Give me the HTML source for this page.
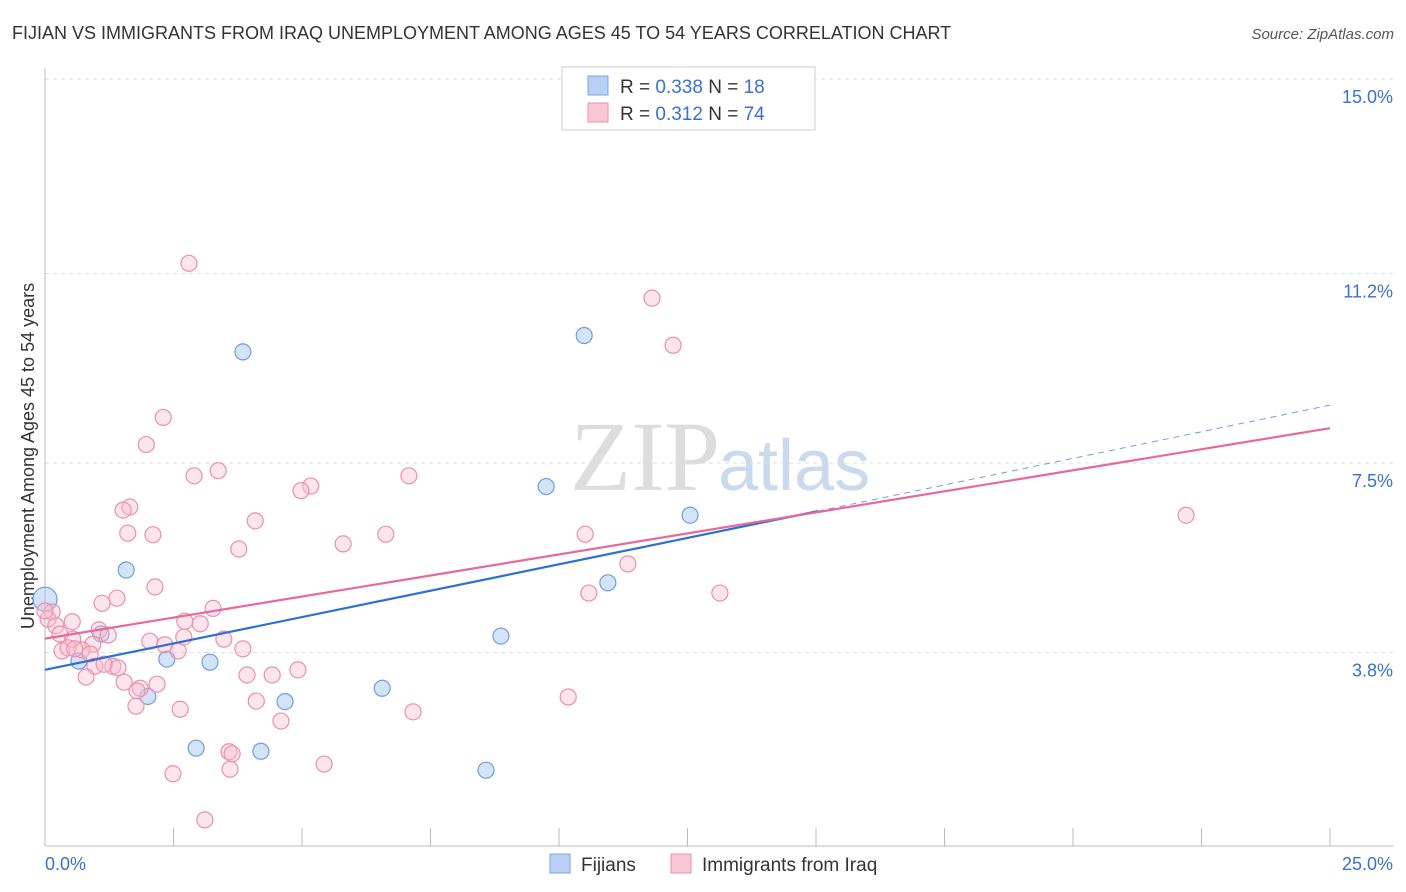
<!DOCTYPE html>
<html><head><meta charset="utf-8"><style>
body{margin:0;background:#fff;font-family:"Liberation Sans",sans-serif}
svg{display:block}
</style></head><body>
<svg id="c" width="1406" height="892">
<text x="12" y="39" font-size="18" fill="#333">FIJIAN VS IMMIGRANTS FROM IRAQ UNEMPLOYMENT AMONG AGES 45 TO 54 YEARS CORRELATION CHART</text>
<text x="1394" y="39" font-size="15" fill="#555" font-style="italic" text-anchor="end">Source: ZipAtlas.com</text>
<text x="720" y="490" font-size="100" fill="#ddd" text-anchor="end" font-family="Liberation Serif">ZIP</text>
<text x="718" y="490" font-size="72" fill="#c9d9ee">atlas</text>
<text transform="translate(34,456) rotate(-90)" font-size="18" fill="#333" text-anchor="middle">Unemployment Among Ages 45 to 54 years</text>
<g id="grid"></g><g id="pts"></g><g id="trend"></g>
<g>
<rect x="562" y="67" width="253" height="63" fill="#fff" stroke="#ccc"/>
<rect x="588" y="76" width="20" height="19" fill="#b7d1f4" stroke="#7aa6e0"/>
<rect x="588" y="103" width="20" height="19" fill="#f8c6d4" stroke="#ec8fac"/>
<text x="620" y="93" font-size="19" fill="#333">R = <tspan fill="#3a70d0">0.338</tspan>   N = <tspan fill="#3a70d0">18</tspan></text>
<text x="620" y="120" font-size="19" fill="#333">R = <tspan fill="#3a70d0"> 0.312</tspan>   N = <tspan fill="#3a70d0">74</tspan></text>
</g>
<g>
<rect x="550" y="854" width="20" height="19" fill="#b7d1f4" stroke="#7aa6e0"/>
<text x="581" y="871" font-size="19" fill="#333">Fijians</text>
<rect x="671" y="854" width="20" height="19" fill="#f8c6d4" stroke="#ec8fac"/>
<text x="702" y="871" font-size="19" fill="#333">Immigrants from Iraq</text>
</g>
<text x="45" y="870" font-size="18" fill="#3a70d0">0.0%</text>
<text x="1393" y="870" font-size="18" fill="#3a70d0" text-anchor="end">25.0%</text>
</svg>
<script>
const yTicks=[15.0,11.2,7.5,3.8];
const yTickLabels=["15.0%","11.2%","7.5%","3.8%"];
const fijX=[0,0.66,1.09,1.58,2.0,2.37,2.94,3.21,3.85,4.2,4.67,6.56,8.58,8.87,9.75,10.49,10.95,12.55];
const fijY=[4.84,3.63,4.16,5.41,2.94,3.67,1.93,3.61,9.67,1.87,2.84,3.1,1.5,4.12,7.04,9.99,5.16,6.48];
const iraqX=[2.8,11.81,12.22,2.3,1.97,2.9,3.37,7.08,5.17,4.98,1.65,1.52,4.09,2.1,1.61,6.63,10.51,3.77,5.8,11.34,2.14,1.4,1.11,10.58,13.13,22.2,3.27,2.72,3.02,0.14,0.06,0.21,0.53,0.29,1.05,1.23,0.54,0.93,2.04,2.33,3.48,2.59,3.85,0.33,0.45,0.72,0.88,1.32,1.42,0.97,1.15,0.8,3.93,4.42,4.92,1.54,2.18,1.85,1.79,1.77,2.63,4.11,10.18,7.16,4.59,3.58,3.64,3.6,5.43,2.49,3.11,2.7,0,0.58];
const iraqY=[11.4,10.72,9.8,8.39,7.86,7.25,7.35,7.25,7.05,6.96,6.64,6.58,6.37,6.1,6.13,6.11,6.11,5.82,5.92,5.53,5.08,4.86,4.76,4.96,4.96,6.48,4.66,4.41,4.36,4.59,4.45,4.32,4.4,4.16,4.24,4.14,4.06,3.96,4.02,3.95,4.06,3.83,3.87,3.83,3.89,3.85,3.77,3.53,3.5,3.53,3.57,3.32,3.36,3.36,3.46,3.22,3.18,3.1,3.05,2.75,2.69,2.85,2.93,2.64,2.46,1.86,1.82,1.52,1.62,1.43,0.53,4.1,4.61,3.87];
const fijTrend=[[0,3.46],[15.04,6.56]];
const fijTrendExt=[[15.04,6.56],[25,8.63]];
const iraqTrend=[[0,4.07],[25,8.18]];
const X=v=>45+v*51.4, Y=v=>79+(15-v)*51.2;
const NS="http://www.w3.org/2000/svg";
function mk(p,t,a){const e=document.createElementNS(NS,t);for(const k in a)e.setAttribute(k,a[k]);p.appendChild(e);return e;}
const g=document.getElementById('grid');
yTicks.forEach((v,i)=>{
 const l=mk(g,'line',{x1:45,x2:1393,y1:Y(v),y2:Y(v),stroke:'#ddd','stroke-dasharray':'4,4'});
 
 
 const t=mk(g,'text',{x:1393,y:Y(v)+24,'font-size':18,fill:'#3a70d0','text-anchor':'end'});
 t.textContent=yTickLabels[i];
 
 
});
mk(g,'line',{x1:45,x2:45,y1:68,y2:846,stroke:'#bbb'});
mk(g,'line',{x1:45,x2:1393,y1:846,y2:846,stroke:'#bbb'});
for(let i=0;i<=10;i++){const x=45+i*128.5;const t=mk(g,'line',{x1:x,x2:x,y1:828,y2:846,stroke:'#bbb'});
 
 }
const p=document.getElementById('pts');
fijX.forEach((v,i)=>{const c=mk(p,'circle',{cx:X(v),cy:Y(fijY[i]),r:i==0?12:8,fill:'rgba(160,196,240,0.45)',stroke:'#6d9de0','stroke-width':1.2});
 
 });
iraqX.forEach((v,i)=>{const c=mk(p,'circle',{cx:X(v),cy:Y(iraqY[i]),r:8,fill:'rgba(248,190,208,0.4)',stroke:'#ec8fac','stroke-width':1.2});
 
 });
const tr=document.getElementById('trend');
let l=mk(tr,'line',{x1:X(fijTrend[0][0]),y1:Y(fijTrend[0][1]),x2:X(fijTrend[1][0]),y2:Y(fijTrend[1][1]),stroke:'#2e6fd4','stroke-width':2.2});


l=mk(tr,'line',{x1:X(fijTrendExt[0][0]),y1:Y(fijTrendExt[0][1]),x2:X(fijTrendExt[1][0]),y2:Y(fijTrendExt[1][1]),stroke:'#6d9de0','stroke-width':1,'stroke-dasharray':'6,5'});


l=mk(tr,'line',{x1:X(iraqTrend[0][0]),y1:Y(iraqTrend[0][1]),x2:X(iraqTrend[1][0]),y2:Y(iraqTrend[1][1]),stroke:'#e8689a','stroke-width':2.2});


</script>
</body></html>
